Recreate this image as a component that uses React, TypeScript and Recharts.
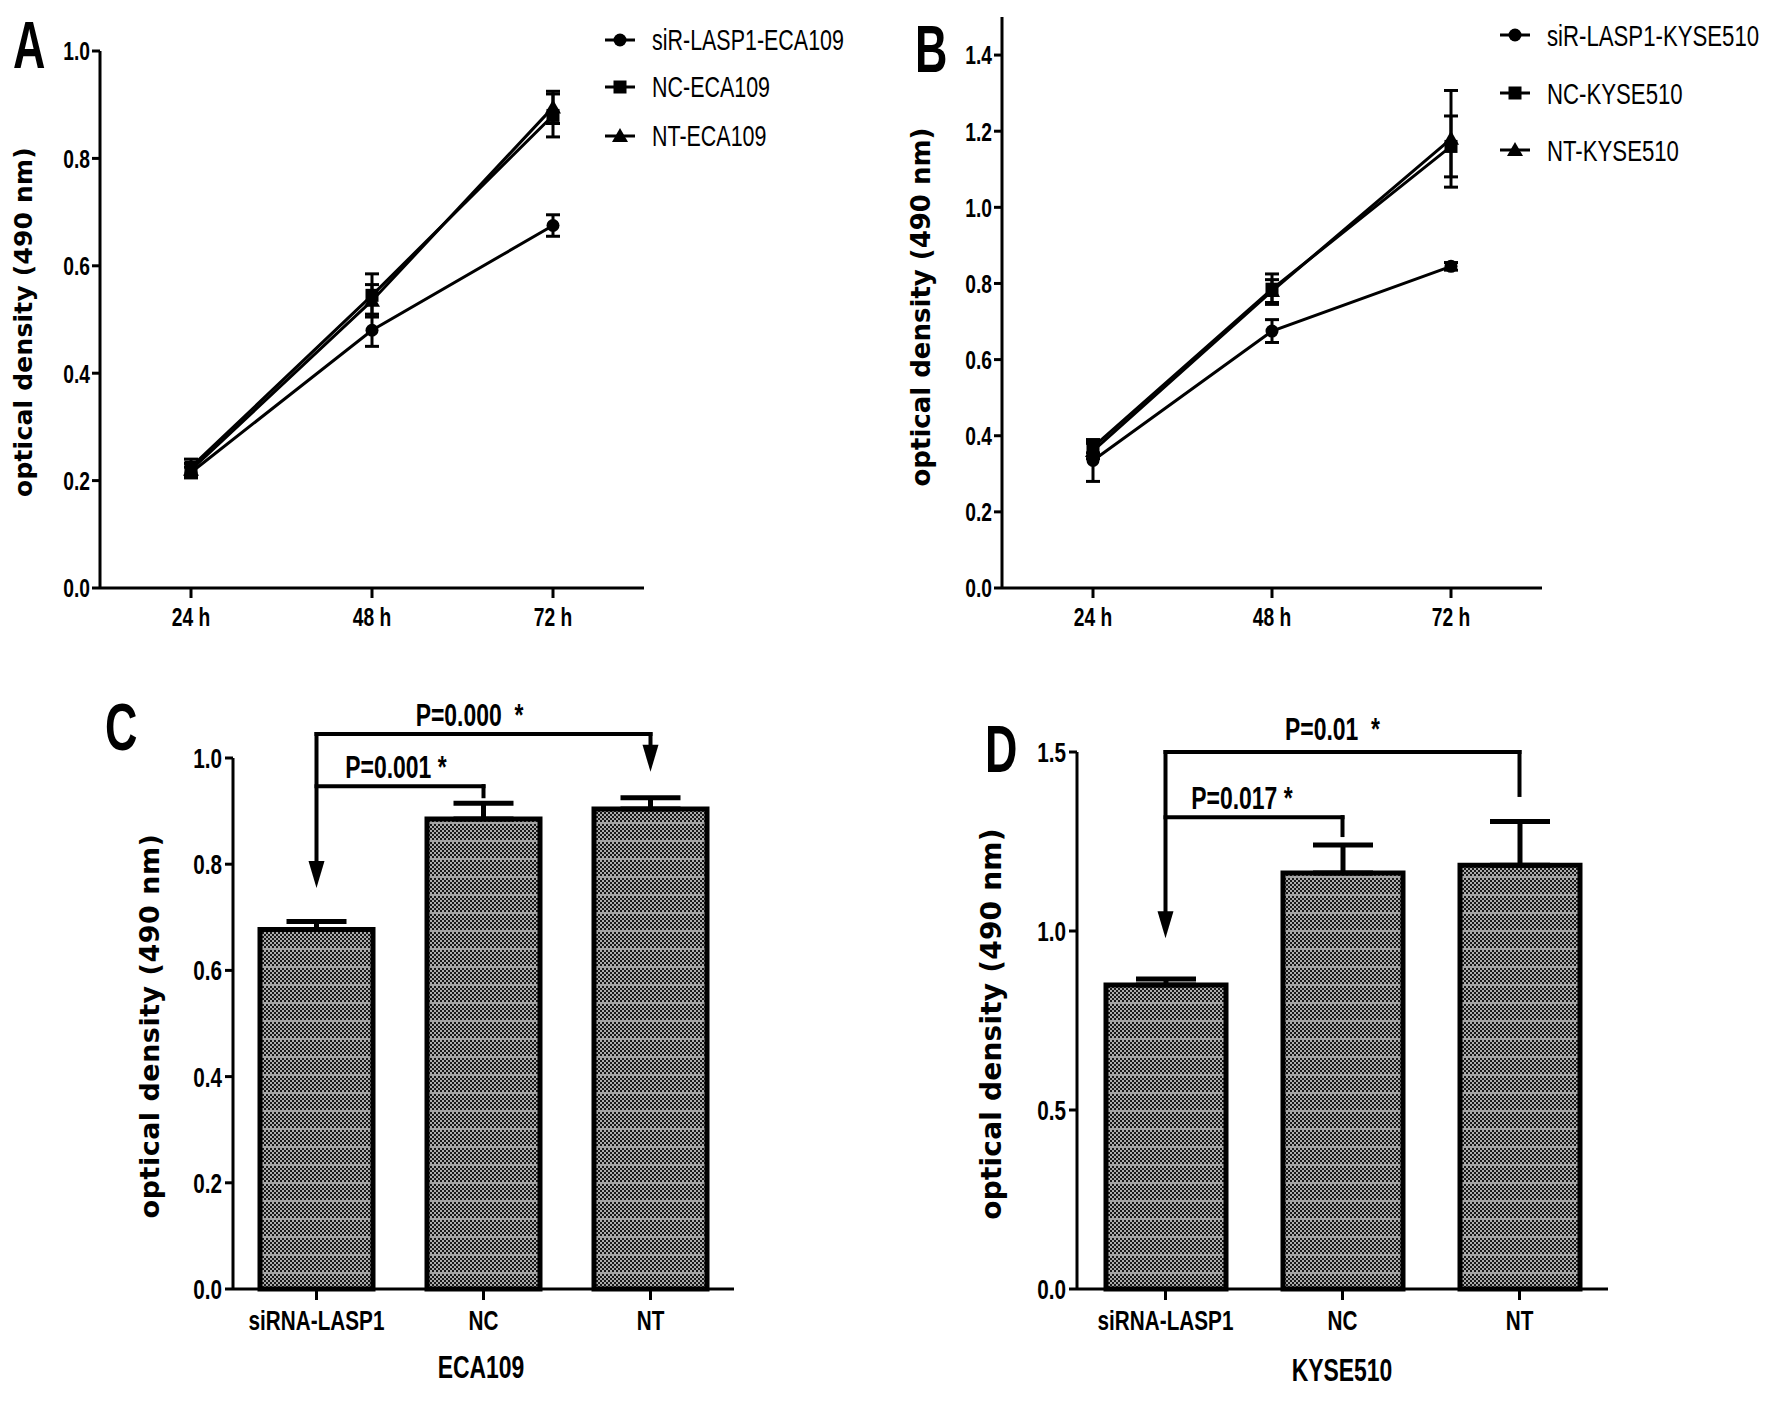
import React from 'react'
import {
  LineChart,
  Line,
  BarChart,
  Bar,
  XAxis,
  YAxis,
  ErrorBar,
  Legend,
  ReferenceLine,
} from 'recharts'

const SANS = '"Liberation Sans", Arial, sans-serif'
const WIDE = '"DejaVu Sans", Verdana, sans-serif'
const SX = 0.74 // horizontal squeeze, the figure uses a condensed face

// ---- panels A / B: time course ----
const hours = ['24 h', '48 h', '72 h']

const ecaNames = ['siR-LASP1-ECA109', 'NC-ECA109', 'NT-ECA109']
const ecaSi = [0.215, 0.48, 0.675]
const ecaSiErr = [0.01, 0.03, 0.02]
const ecaNc = [0.225, 0.545, 0.88]
const ecaNcErr = [0.015, 0.04, 0.04]
const ecaNt = [0.22, 0.535, 0.895]
const ecaNtErr = [0.012, 0.03, 0.03]

const kyseNames = ['siR-LASP1-KYSE510', 'NC-KYSE510', 'NT-KYSE510']
const kyseSi = [0.335, 0.675, 0.845]
const kyseSiErr = [0.055, 0.03, 0.01]
const kyseNc = [0.37, 0.785, 1.16]
const kyseNcErr = [0.015, 0.04, 0.08]
const kyseNt = [0.36, 0.78, 1.18]
const kyseNtErr = [0.02, 0.03, 0.127]

const ticksA = [0, 0.2, 0.4, 0.6, 0.8, 1.0]
const ticksB = [0, 0.2, 0.4, 0.6, 0.8, 1.0, 1.2, 1.4]

// ---- panels C / D: 72 h bars ----
const groups = ['siRNA-LASP1', 'NC', 'NT']
const ecaBar = [0.677, 0.885, 0.904]
const ecaBarErr = [0.015, 0.03, 0.021]
const kyseBar = [0.849, 1.162, 1.184]
const kyseBarErr = [0.017, 0.078, 0.122]

const ticksC = [0, 0.2, 0.4, 0.6, 0.8, 1.0]
const ticksD = [0, 0.5, 1.0, 1.5]

// significance brackets (siRNA-LASP1 vs each control)
const ecaPairs = ['NC', 'NT']
const ecaPText = ['P=0.001 *', 'P=0.000\u00a0\u00a0*']
const ecaPLevel = [0.947, 1.045]
const ecaPDrop = [0.928, 0.974]
const ecaPArrow = [false, true]
const ecaArrowTip = 0.755

const kysePairs = ['NC', 'NT']
const kysePText = ['P=0.017 *', 'P=0.01\u00a0\u00a0*']
const kysePLevel = [1.318, 1.5]
const kysePDrop = [1.268, 1.38]
const kysePArrow = [false, false]
const kyseArrowTip = 0.98

const seriesKeys = ['si', 'nc', 'nt']

const buildRows = (si: number[], siE: number[], nc: number[], ncE: number[], nt: number[], ntE: number[]) =>
  hours.map((time, i) => ({
    time,
    si: si[i], siErr: siE[i],
    nc: nc[i], ncErr: ncE[i],
    nt: nt[i], ntErr: ntE[i],
  }))

const ecaRows = buildRows(ecaSi, ecaSiErr, ecaNc, ecaNcErr, ecaNt, ecaNtErr)
const kyseRows = buildRows(kyseSi, kyseSiErr, kyseNc, kyseNcErr, kyseNt, kyseNtErr)

const ecaBars = groups.map((group, i) => ({ group, value: ecaBar[i], err: [0, ecaBarErr[i]] }))
const kyseBars = groups.map((group, i) => ({ group, value: kyseBar[i], err: [0, kyseBarErr[i]] }))

const shapeOf: Record<string, string> = { si: 'circle', nc: 'square', nt: 'triangle' }

// condensed text: baseline at (x, y)
function CText({ x, y, size, weight = 700, anchor = 'start', sx = SX, children }: any) {
  return (
    <text
      transform={`translate(${x} ${y}) scale(${sx} 1)`}
      fontSize={size}
      fontWeight={weight}
      fontFamily={SANS}
      textAnchor={anchor}
      fill="#000"
    >
      {children}
    </text>
  )
}

function Marker({ kind, x, y }: { kind: string; x: number; y: number }) {
  if (kind === 'square') return <rect x={x - 6.5} y={y - 6.5} width={13} height={13} fill="#000" />
  if (kind === 'triangle') return <path d={`M${x},${y - 8} L${x + 8},${y + 6} L${x - 8},${y + 6} Z`} fill="#000" />
  return <circle cx={x} cy={y} r={6.5} fill="#000" />
}

const makeDot = (kind: string) => (p: any) => (
  <g key={`${kind}-${p.index}`}>
    <Marker kind={kind} x={p.cx} y={p.cy} />
  </g>
)

function LegendBox({ payload, rows, lineX, textX, fontSize }: any) {
  const items = [...(payload || [])].sort(
    (a: any, b: any) => seriesKeys.indexOf(a.dataKey) - seriesKeys.indexOf(b.dataKey),
  )
  return (
    <svg width={300} height={rows[2] + 30} style={{ display: 'block', overflow: 'visible' }}>
      {items.map((entry: any, i: number) => (
        <g key={entry.value}>
          <line x1={lineX - 15} x2={lineX + 15} y1={rows[i]} y2={rows[i]} stroke="#000" strokeWidth={3} />
          <Marker kind={shapeOf[entry.dataKey]} x={lineX} y={rows[i]} />
          <CText x={textX} y={rows[i] + fontSize * 0.36} size={fontSize} weight={400}>
            {entry.value}
          </CText>
        </g>
      ))}
    </svg>
  )
}

// panel letter + rotated y title, placed in chart coordinates
const sideTitle = (letter: string, lx: number, ly: number, tx: number, ty: number, size: number, spacing: number) => () => (
  <g>
    <CText x={lx} y={ly} size={66} sx={0.68}>{letter}</CText>
    <text
      x={tx}
      y={ty}
      transform={`rotate(-90 ${tx} ${ty})`}
      textAnchor="middle"
      dominantBaseline="central"
      fontSize={size}
      fontWeight={700}
      fontFamily={WIDE}
      letterSpacing={spacing}
      fill="#000"
    >
      optical density (490 nm)
    </text>
  </g>
)

const groupTitle = (text: string, x: number, y: number) => () => (
  <CText x={x} y={y} size={31} anchor="middle">{text}</CText>
)

const pLabel = (text: string, shift: number, lift: number) => (props: any) => {
  const vb = props.viewBox || { x: 0, y: 0, width: 0 }
  return (
    <CText x={vb.x + vb.width / 2 + shift} y={vb.y - lift} size={31} anchor="middle">
      {text}
    </CText>
  )
}

const segShape = (p: any) => (
  <line x1={p.x1} y1={p.y1} x2={p.x2} y2={p.y2} stroke="#000" strokeWidth={4} strokeLinecap="square" />
)

const arrowShape = (p: any) => {
  const head = 27
  const half = 8
  return (
    <g>
      <line x1={p.x1} y1={p.y1} x2={p.x2} y2={p.y2 - head + 2} stroke="#000" strokeWidth={4} strokeLinecap="square" />
      <path d={`M${p.x2 - half},${p.y2 - head} L${p.x2 + half},${p.y2 - head} L${p.x2},${p.y2} Z`} fill="#000" />
    </g>
  )
}

const axisStyle = { stroke: '#000', strokeWidth: 3 }
const fmt = (v: number) => v.toFixed(1)

const yTick = (size: number) => (p: any) => (
  <CText x={p.x} y={p.y + size * 0.36} size={size} anchor="end">{fmt(p.payload.value)}</CText>
)
const xTick = (size: number) => (p: any) => (
  <CText x={p.x} y={p.y + size * 0.72} size={size} anchor="middle">{p.payload.value}</CText>
)

function TimeCourse({ rows, names, ticks, top, max, left, right, legendRows, legendLine, legendText, legendSize, title }: any) {
  return (
    <LineChart width={886} height={680} data={rows} margin={{ top, right, bottom: 32, left }}>
      <XAxis
        dataKey="time"
        interval={0}
        padding={{ left: 91, right: 91 }}
        height={60}
        axisLine={axisStyle}
        tickLine={axisStyle}
        tickSize={10}
        tickMargin={9}
        tick={xTick(26)}
      />
      <YAxis
        width={100}
        domain={[0, max]}
        ticks={ticks}
        interval={0}
        axisLine={axisStyle}
        tickLine={axisStyle}
        tickSize={8}
        tickMargin={2}
        tick={yTick(26)}
        label={title}
      />
      <Legend
        layout="vertical"
        align="center"
        verticalAlign="middle"
        wrapperStyle={{ left: 600, top: 0 }}
        content={(props: any) => (
          <LegendBox payload={props.payload} rows={legendRows} lineX={legendLine} textX={legendText} fontSize={legendSize} />
        )}
      />
      {seriesKeys.map((key, i) => (
        <Line
          key={key}
          dataKey={key}
          name={names[i]}
          type="linear"
          stroke="#000"
          strokeWidth={3}
          dot={makeDot(shapeOf[key])}
          activeDot={false}
          isAnimationActive={false}
        >
          <ErrorBar dataKey={`${key}Err`} width={7} strokeWidth={3} stroke="#000" direction="y" />
        </Line>
      ))}
    </LineChart>
  )
}

function BarPanel({ rows, ticks, max, top, left, right, barSize, pairs, pText, pLevel, pDrop, pArrow, pShift, pLift, arrowTip, title, group, patternId }: any) {
  return (
    <BarChart width={886} height={729} data={rows} margin={{ top, right, bottom: 40, left }}>
      <defs>
        <pattern id={patternId} width={4} height={18} patternUnits="userSpaceOnUse">
          <rect width={4} height={18} fill="#181818" />
          {[0, 1, 2, 3].map((r) => (
            <g key={r}>
              <rect x={0.2} y={r * 4 + 0.2} width={1.6} height={1.6} fill="#fff" />
              <rect x={2.2} y={r * 4 + 2.2} width={1.6} height={1.6} fill="#fff" />
            </g>
          ))}
          <rect x={0} y={16.4} width={4} height={1.2} fill="#fff" />
        </pattern>
      </defs>
      <XAxis
        dataKey="group"
        interval={0}
        height={80}
        axisLine={axisStyle}
        tickLine={axisStyle}
        tickSize={11}
        tickMargin={10}
        tick={xTick(28)}
        label={group}
      />
      <YAxis
        width={100}
        domain={[0, max]}
        ticks={ticks}
        interval={0}
        axisLine={axisStyle}
        tickLine={axisStyle}
        tickSize={8}
        tickMargin={3}
        tick={yTick(28)}
        label={title}
      />
      <Bar dataKey="value" barSize={barSize} fill={`url(#${patternId})`} stroke="#000" strokeWidth={5} isAnimationActive={false}>
        <ErrorBar dataKey="err" width={30} strokeWidth={5} stroke="#000" direction="y" />
      </Bar>
      {pairs.map((g: string, i: number) => (
        <ReferenceLine
          key={`h${i}`}
          segment={[{ x: groups[0], y: pLevel[i] }, { x: g, y: pLevel[i] }]}
          ifOverflow="visible"
          shape={segShape}
          label={pLabel(pText[i], pShift[i], pLift[i])}
        />
      ))}
      {pairs.map((g: string, i: number) => (
        <ReferenceLine
          key={`v${i}`}
          segment={[{ x: g, y: pLevel[i] }, { x: g, y: pDrop[i] }]}
          ifOverflow="visible"
          shape={pArrow[i] ? arrowShape : segShape}
        />
      ))}
      <ReferenceLine
        segment={[{ x: groups[0], y: Math.max(...pLevel) }, { x: groups[0], y: arrowTip }]}
        ifOverflow="visible"
        shape={arrowShape}
      />
    </BarChart>
  )
}

export default function App() {
  return (
    <div style={{ position: 'absolute', left: 0, top: 0, width: 1772, height: 1409, background: '#fff' }}>
      <div style={{ position: 'absolute', left: 0, top: 0 }}>
        <TimeCourse
          rows={ecaRows}
          names={ecaNames}
          ticks={ticksA}
          max={1.0}
          top={51}
          left={0}
          right={242}
          legendRows={[40, 87, 136]}
          legendLine={20}
          legendText={52}
          legendSize={29}
          title={sideTitle('A', 13, 68, 23, 322, 25, 0.2)}
        />
      </div>
      <div style={{ position: 'absolute', left: 886, top: 0 }}>
        <TimeCourse
          rows={kyseRows}
          names={kyseNames}
          ticks={ticksB}
          max={1.5}
          top={17}
          left={16}
          right={230}
          legendRows={[35, 93, 150]}
          legendLine={29}
          legendText={61}
          legendSize={30}
          title={sideTitle('B', 29, 72, 35, 307, 26, 0)}
        />
      </div>
      <div style={{ position: 'absolute', left: 0, top: 680 }}>
        <BarPanel
          rows={ecaBars}
          ticks={ticksC}
          max={1.0}
          top={78}
          left={133}
          right={152}
          barSize={113}
          pairs={ecaPairs}
          pText={ecaPText}
          pLevel={ecaPLevel}
          pDrop={ecaPDrop}
          pArrow={ecaPArrow}
          pShift={[-4, -14]}
          pLift={[8, 8]}
          arrowTip={ecaArrowTip}
          title={sideTitle('C', 105, 70, 149, 346, 27, 0.5)}
          group={groupTitle('ECA109', 481, 698)}
          patternId="dotsC"
        />
      </div>
      <div style={{ position: 'absolute', left: 886, top: 680 }}>
        <BarPanel
          rows={kyseBars}
          ticks={ticksD}
          max={1.5}
          top={72}
          left={91}
          right={164}
          barSize={120}
          pairs={kysePairs}
          pText={kysePText}
          pLevel={kysePLevel}
          pDrop={kysePDrop}
          pArrow={kysePArrow}
          pShift={[-12, -10]}
          pLift={[8, 12]}
          arrowTip={kyseArrowTip}
          title={sideTitle('D', 99, 92, 105, 344, 28, 0.2)}
          group={groupTitle('KYSE510', 456, 701)}
          patternId="dotsD"
        />
      </div>
    </div>
  )
}
